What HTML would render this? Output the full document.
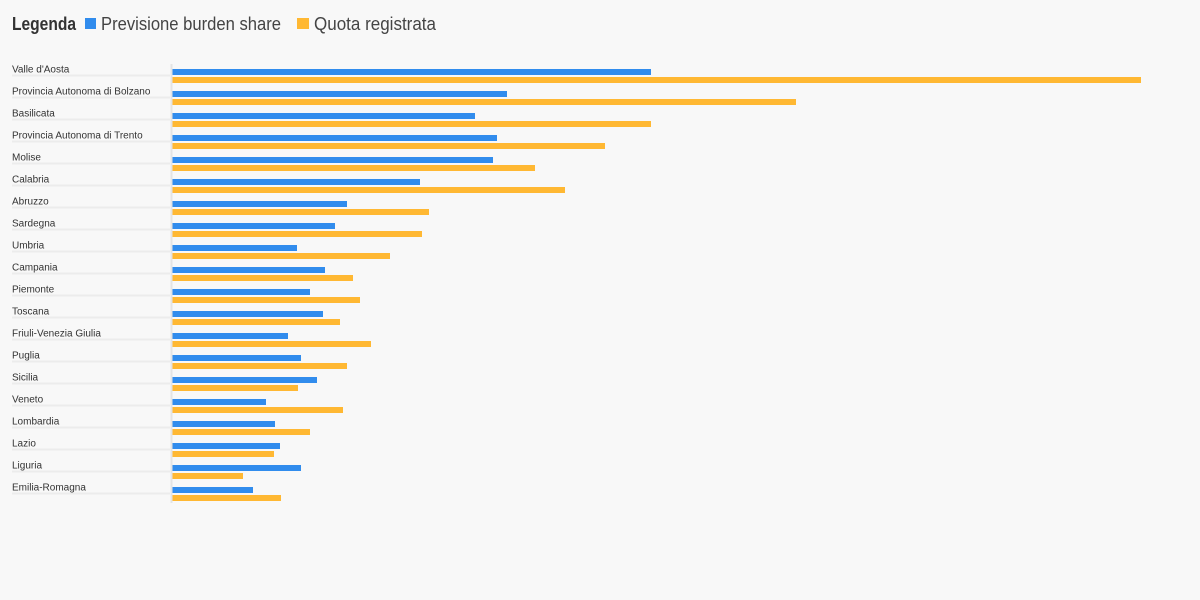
<!DOCTYPE html>
<html><head><meta charset="utf-8"><style>
html,body{margin:0;padding:0;background:#f8f8f8;}
svg{display:block;font-family:"Liberation Sans",sans-serif;}
</style></head><body>
<svg id="chart" width="1200" height="600">
<g>
<text x="12" y="30" font-size="18" font-weight="bold" fill="#333" textLength="64" lengthAdjust="spacingAndGlyphs">Legenda</text>
<rect x="85" y="18" width="11" height="11" fill="#318ced"/>
<text x="101" y="30" font-size="18" fill="#444" textLength="180" lengthAdjust="spacingAndGlyphs">Previsione burden share</text>
<rect x="297" y="18" width="12" height="11" fill="#ffb833"/>
<text x="314" y="30" font-size="18" fill="#444" textLength="122" lengthAdjust="spacingAndGlyphs">Quota registrata</text>
</g>
<g id="rows"></g>
<line x1="171.5" y1="64" x2="171.5" y2="503" stroke="#e4e4e4" stroke-width="2"/>
</svg>
<script>
const categories=["Valle d'Aosta","Provincia Autonoma di Bolzano","Basilicata","Provincia Autonoma di Trento","Molise","Calabria","Abruzzo","Sardegna","Umbria","Campania","Piemonte","Toscana","Friuli-Venezia Giulia","Puglia","Sicilia","Veneto","Lombardia","Lazio","Liguria","Emilia-Romagna"];
const forecast=[480,336,304,326,322,249,176,164,126,154,139,152,117,130,146,95,104,109,130,82];
const recorded=[970,625,480,434,364,394,258,251,219,182,189,169,200,176,127,172,139,103,72,110];
const NS="http://www.w3.org/2000/svg";
const g=document.getElementById('rows');
const x0=171, xMax=970, xPix=970;
function x(v){return x0+v*xPix/xMax;}
function y(i){return 69+22*i;}
function mk(tag,attrs){const e=document.createElementNS(NS,tag);for(const k in attrs)e.setAttribute(k,attrs[k]);return e;}
categories.forEach((c,i)=>{
  const line=mk('line',{x1:12,x2:170,y1:y(i)+6.5,y2:y(i)+6.5,stroke:'#ececec','stroke-width':2});
  
  
  g.appendChild(line);
  const t=mk('text',{x:12,y:y(i)+3.5,'font-size':10,fill:'#333'});
  
  
  t.textContent=c;
  g.appendChild(t);
  const b1=mk('rect',{x:x0,y:y(i),width:x(forecast[i])-x0,height:6,fill:'#318ced'});
  
  
  g.appendChild(b1);
  const b2=mk('rect',{x:x0,y:y(i)+8,width:x(recorded[i])-x0,height:6,fill:'#ffb833'});
  
  
  g.appendChild(b2);
});
</script>
</body></html>
